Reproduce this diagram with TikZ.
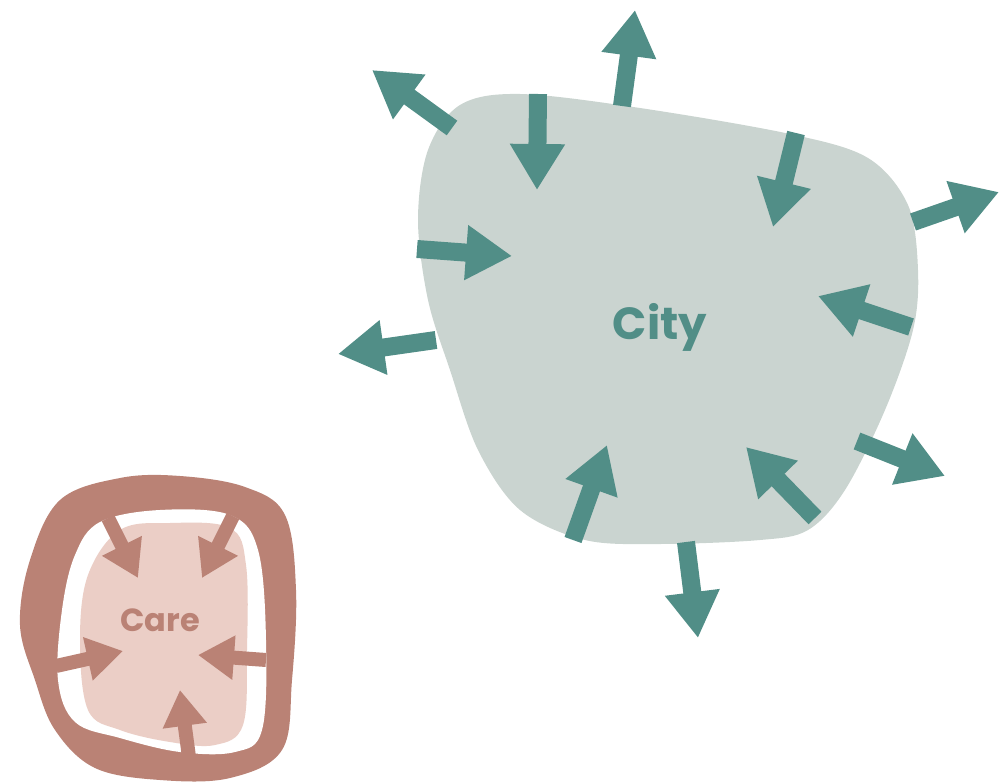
\documentclass[tikz,border=0pt]{standalone}
\usepackage{fontspec}
\setmainfont{Poppins}
\usetikzlibrary{arrows.meta}
\definecolor{cityfill}{HTML}{CAD4D0}
\definecolor{teal}{HTML}{518E87}
\definecolor{caredark}{HTML}{BA8275}
\definecolor{carelight}{HTML}{EBCEC6}
\tikzset{
  cityarrow/.style={draw=teal, line width=18pt, line cap=butt, -{Triangle[length=46pt,width=52pt,fill=teal]}},
  carearrow/.style={draw=caredark, line width=14pt, line cap=butt, -{Triangle[length=36pt,width=42pt,fill=caredark]}},
  citylabel/.style={text=teal, font=\fontsize{45}{48}\selectfont\bfseries},
  carelabel/.style={text=caredark, font=\fontsize{32}{35}\selectfont\bfseries}
}
\begin{document}
\begin{tikzpicture}[x=1pt,y=-1pt]
\useasboundingbox (0,0) rectangle (999,784);
% City blob
\fill[cityfill] plot[smooth cycle, tension=0.55] coordinates {
 (520,94) (640,108) (790,134) (868,158) (908,205) (918,270) (913,330)
 (885,410) (845,490) (808,530) (760,540) (660,544) (585,540) (520,510)
 (478,450) (450,370) (428,300) (418,220) (428,150) (460,105)};
% City arrows outward
\coordinate (o1s) at (452,128); \coordinate (o1t) at (372,70);
\coordinate (o2s) at (622,106); \coordinate (o2t) at (635,10);
\coordinate (o3s) at (913,222); \coordinate (o3t) at (999,192);
\coordinate (o4s) at (436,340); \coordinate (o4t) at (338,354);
\coordinate (o5s) at (857,441); \coordinate (o5t) at (945,476);
\coordinate (o6s) at (686,542); \coordinate (o6t) at (698,638);
\foreach \a in {1,...,6} \draw[cityarrow] (o\a s) -- (o\a t);
% City arrows inward
\coordinate (i1s) at (538,94); \coordinate (i1t) at (537,190);
\coordinate (i2s) at (796,133); \coordinate (i2t) at (773,227);
\coordinate (i3s) at (417,249); \coordinate (i3t) at (512,256);
\coordinate (i4s) at (911,327); \coordinate (i4t) at (818,296);
\coordinate (i5s) at (573,540); \coordinate (i5t) at (607,445);
\coordinate (i6s) at (815,518); \coordinate (i6t) at (746,447);
\foreach \a in {1,...,6} \draw[cityarrow] (i\a s) -- (i\a t);
\node[citylabel] (city) at (660,327) {City};
% Care outer ring
\fill[caredark] plot[smooth cycle, tension=0.6] coordinates {
 (60,500) (120,478) (180,476) (245,487) (285,515) (296,590) (292,680)
 (282,750) (230,778) (160,780) (95,768) (55,730) (35,680) (20,625) (30,560)};
\fill[white] plot[smooth cycle, tension=0.6] coordinates {
 (100,522) (160,510) (230,515) (258,550) (266,640) (262,730) (235,752)
 (180,752) (120,738) (75,722) (58,680) (62,610) (75,555)};
\fill[carelight] plot[smooth cycle, tension=0.6] coordinates {
 (120,530) (170,523) (230,528) (246,565) (247,650) (243,725) (215,745)
 (170,742) (120,730) (88,710) (80,640) (88,575)};
% Care arrows
\coordinate (c1s) at (108,518); \coordinate (c1t) at (138,578);
\coordinate (c2s) at (233,516); \coordinate (c2t) at (202,578);
\coordinate (c3s) at (56,666); \coordinate (c3t) at (123,651);
\coordinate (c4s) at (266,660); \coordinate (c4t) at (198,655);
\coordinate (c5s) at (189,757); \coordinate (c5t) at (180,690);
\foreach \a in {1,...,5} \draw[carearrow] (c\a s) -- (c\a t);
\node[carelabel] (care) at (160,620) {Care};
\end{tikzpicture}
\end{document}
